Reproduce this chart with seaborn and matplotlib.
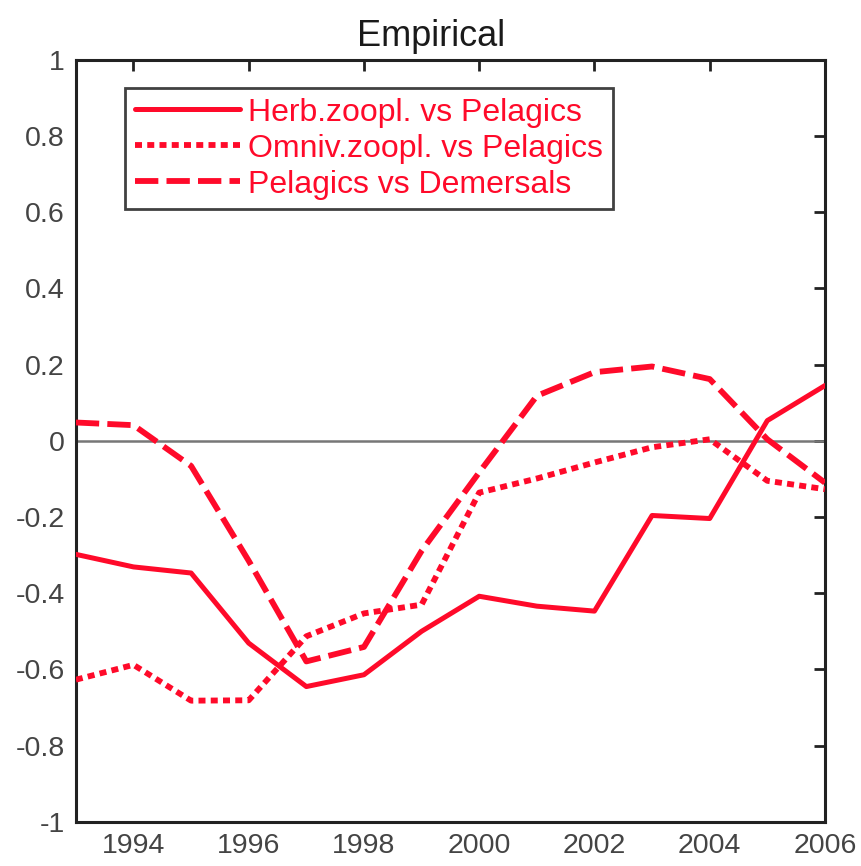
import matplotlib
matplotlib.use("Agg")
import matplotlib.pyplot as plt
import numpy as np
import pandas as pd
import seaborn as sns

years = [1993, 1994, 1995, 1996, 1997, 1998, 1999, 2000, 2001, 2002, 2003, 2004, 2005, 2006]
herb_vs_pelagics = [-0.298, -0.331, -0.347, -0.531, -0.645, -0.614, -0.500, -0.408, -0.434, -0.447,
                    -0.196, -0.204, 0.053, 0.145]
omniv_vs_pelagics = [-0.627, -0.588, -0.682, -0.681, -0.513, -0.453, -0.430, -0.136, -0.099, -0.057,
                     -0.017, 0.004, -0.105, -0.127]
pelagics_vs_demersals = [0.048, 0.041, -0.066, -0.315, -0.579, -0.541, -0.289, -0.083, 0.118, 0.180,
                         0.195, 0.162, 0.004, -0.110]
series_names = ["Herb.zoopl. vs Pelagics", "Omniv.zoopl. vs Pelagics", "Pelagics vs Demersals"]
x_ticks = [1994, 1996, 1998, 2000, 2002, 2004, 2006]
y_ticks = [-1, -0.8, -0.6, -0.4, -0.2, 0, 0.2, 0.4, 0.6, 0.8, 1]
y_tick_labels = ["-1", "-0.8", "-0.6", "-0.4", "-0.2", "0", "0.2", "0.4", "0.6", "0.8", "1"]

sns.set_theme(style="white")
plt.rcParams["font.family"] = ["Liberation Sans", "DejaVu Sans"]

df = pd.DataFrame({
    "year": years * 3,
    "value": herb_vs_pelagics + omniv_vs_pelagics + pelagics_vs_demersals,
    "series": np.repeat(series_names, len(years)),
})

red = "#ff0a2a"
styles = {
    series_names[0]: dict(linestyle="-", lw=3.6),
    series_names[1]: dict(linestyle=(0, (1.2, 0.9)), lw=4.2, dash_capstyle="butt"),
    series_names[2]: dict(linestyle=(0, (4.0, 1.4)), lw=4.2, dash_capstyle="butt"),
}

fig = plt.figure(figsize=(8.62, 8.66), dpi=100)
ax = fig.add_axes([0.088, 0.051, 0.869, 0.880])

ax.axhline(0, color="#777777", lw=1.8, zorder=1)

for name in series_names:
    sub = df[df["series"] == name]
    sns.lineplot(data=sub, x="year", y="value", ax=ax, color=red, label=name,
                 zorder=3, **styles[name])

ax.set_xlim(1993, 2006)
ax.set_ylim(-1, 1)
ax.set_xticks(x_ticks)
ax.set_yticks(y_ticks)
ax.set_yticklabels(y_tick_labels)
ax.set_xlabel("")
ax.set_ylabel("")
ax.set_title("Empirical", fontsize=26, color="#1a1a1a", pad=10, x=0.474)

ax.tick_params(direction="in", length=8, width=2, colors="#222222", labelcolor="#444444",
               labelsize=20.5, top=True, right=True, pad=8)
for sp in ax.spines.values():
    sp.set_color("#222222")
    sp.set_linewidth(2.2)
    sp.set_visible(True)

leg = ax.legend(loc="upper left", bbox_to_anchor=(0.066, 0.963), fontsize=23,
                handlelength=3.3, handletextpad=0.25, labelspacing=0.19,
                borderpad=0.3, borderaxespad=0.0, frameon=True, fancybox=False)
leg.get_frame().set_edgecolor("#111111")
leg.get_frame().set_linewidth(2.0)
for t in leg.get_texts():
    t.set_color(red)

fig.savefig("out.png", dpi=100)
